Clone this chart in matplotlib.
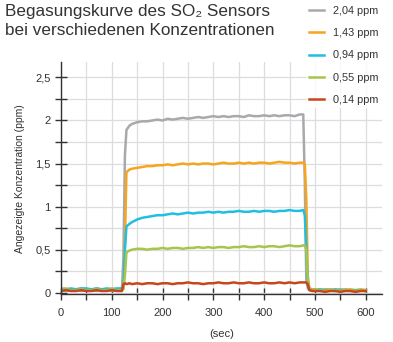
import matplotlib
matplotlib.use('Agg')
import matplotlib.pyplot as plt
from matplotlib.ticker import MultipleLocator, FuncFormatter

plt.rcParams['font.family'] = ['Liberation Sans', 'DejaVu Sans']

# Zeitachse (sec)
t = [0, 10, 20, 30, 40, 50, 60, 70, 80, 90, 100, 110, 120,
     123, 126, 129, 135,
     140, 150, 160, 170, 180, 190, 200, 210, 220, 230, 240, 250, 260, 270,
     280, 290, 300, 310, 320, 330, 340, 350, 360, 370, 380, 390, 400, 410,
     420, 430, 440, 450, 460, 470,
     477, 480, 483, 486, 489, 495,
     500, 510, 520, 530, 540, 550, 560, 570, 580, 590, 600]

labels = ['2,04 ppm', '1,43 ppm', '0,94 ppm', '0,55 ppm', '0,14 ppm']
colors = ['#a8a9ad', '#f7a41e', '#1fbfe0', '#a6c54b', '#c9461d']

y_204 = [0.03, 0.02, 0.03, 0.04, 0.02, 0.03, 0.03, 0.02, 0.04, 0.03, 0.02, 0.03, 0.03,
         0.40, 1.60, 1.89, 1.94,
         1.96, 1.98, 1.99, 1.99, 2.00, 2.01, 2.00, 2.02, 2.01, 2.02, 2.03, 2.02, 2.03, 2.04,
         2.03, 2.04, 2.05, 2.04, 2.05, 2.04, 2.05, 2.05, 2.04, 2.06, 2.05, 2.05, 2.06, 2.05,
         2.06, 2.05, 2.06, 2.06, 2.05, 2.07,
         2.07, 1.30, 0.15, 0.05, 0.03, 0.03,
         0.03, 0.02, 0.03, 0.03, 0.02, 0.03, 0.04, 0.03, 0.02, 0.03, 0.03]

y_143 = [0.04, 0.05, 0.03, 0.04, 0.05, 0.04, 0.03, 0.05, 0.04, 0.04, 0.05, 0.04, 0.04,
         0.05, 0.60, 1.40, 1.43,
         1.44, 1.45, 1.46, 1.47, 1.47, 1.48, 1.48, 1.49, 1.48, 1.49, 1.50, 1.49, 1.50, 1.49,
         1.50, 1.50, 1.49, 1.50, 1.51, 1.50, 1.50, 1.51, 1.50, 1.51, 1.50, 1.51, 1.51, 1.50,
         1.51, 1.52, 1.51, 1.51, 1.50, 1.51,
         1.51, 1.50, 1.10, 0.20, 0.05, 0.04,
         0.04, 0.03, 0.04, 0.04, 0.03, 0.04, 0.03, 0.04, 0.03, 0.04, 0.03]

y_094 = [0.05, 0.04, 0.05, 0.04, 0.05, 0.05, 0.04, 0.05, 0.04, 0.05, 0.04, 0.05, 0.05,
         0.06, 0.50, 0.77, 0.80,
         0.82, 0.85, 0.87, 0.88, 0.89, 0.90, 0.90, 0.91, 0.92, 0.91, 0.92, 0.93, 0.92, 0.93,
         0.93, 0.94, 0.93, 0.94, 0.93, 0.94, 0.94, 0.95, 0.94, 0.94, 0.95, 0.94, 0.95, 0.95,
         0.94, 0.95, 0.95, 0.96, 0.95, 0.95,
         0.96, 0.90, 0.50, 0.08, 0.04, 0.03,
         0.03, 0.04, 0.03, 0.03, 0.04, 0.03, 0.03, 0.02, 0.03, 0.03, 0.02]

y_055 = [0.03, 0.04, 0.03, 0.03, 0.04, 0.03, 0.03, 0.04, 0.03, 0.03, 0.04, 0.03, 0.03,
         0.04, 0.20, 0.47, 0.49,
         0.50, 0.51, 0.51, 0.50, 0.51, 0.51, 0.52, 0.51, 0.52, 0.52, 0.51, 0.52, 0.52, 0.53,
         0.52, 0.53, 0.52, 0.53, 0.53, 0.52, 0.53, 0.53, 0.54, 0.53, 0.53, 0.54, 0.53, 0.54,
         0.54, 0.53, 0.54, 0.55, 0.54, 0.54,
         0.55, 0.55, 0.50, 0.15, 0.04, 0.03,
         0.03, 0.03, 0.02, 0.03, 0.03, 0.02, 0.03, 0.03, 0.02, 0.03, 0.02]

y_014 = [0.02, 0.03, 0.02, 0.02, 0.03, 0.02, 0.02, 0.03, 0.02, 0.02, 0.03, 0.02, 0.02,
         0.10, 0.11, 0.10, 0.11,
         0.10, 0.11, 0.10, 0.11, 0.11, 0.10, 0.11, 0.11, 0.10, 0.11, 0.11, 0.12, 0.11, 0.11,
         0.10, 0.11, 0.11, 0.12, 0.11, 0.11, 0.12, 0.11, 0.11, 0.12, 0.11, 0.11, 0.12, 0.11,
         0.11, 0.12, 0.11, 0.12, 0.11, 0.12,
         0.12, 0.12, 0.12, 0.10, 0.03, 0.02,
         0.02, 0.02, 0.01, 0.02, 0.02, 0.01, 0.02, 0.02, 0.01, 0.02, 0.02]

series = [y_204, y_143, y_094, y_055, y_014]

fig = plt.figure(figsize=(3.93, 3.42), dpi=100)
ax = fig.add_axes([0.155, 0.139, 0.817, 0.680])

for y, c, lab in zip(series, colors, labels):
    ax.plot(t, y, color=c, lw=1.8, label=lab, solid_joinstyle='round')

ax.set_xlim(0, 632)
ax.set_ylim(-0.02, 2.68)

ax.set_xticks([0, 100, 200, 300, 400, 500, 600])
ax.xaxis.set_minor_locator(MultipleLocator(50))
ax.yaxis.set_major_locator(MultipleLocator(0.5))
ax.yaxis.set_minor_locator(MultipleLocator(0.25))
ax.yaxis.set_major_formatter(FuncFormatter(lambda v, p: ('%g' % v).replace('.', ',')))

ax.grid(True, which='both', color='#dddddd', lw=0.9)
ax.set_axisbelow(True)

for s in ['top', 'right']:
    ax.spines[s].set_visible(False)
for s in ['left', 'bottom']:
    ax.spines[s].set_color('#333333')
    ax.spines[s].set_linewidth(1.0)

ax.tick_params(which='both', direction='inout', length=9, width=1.0,
               color='#333333', labelsize=8, labelcolor='#333333')
ax.tick_params(axis='y', which='both', pad=3)
ax.tick_params(axis='x', which='both', pad=5)

ax.set_xlabel('(sec)', fontsize=8, color='#333333', labelpad=8)
ax.set_ylabel('Angezeigte Konzentration (ppm)', fontsize=7.5, color='#333333', labelpad=7)

fig.text(0.013, 0.987, 'Begasungskurve des SO\u2082 Sensors\nbei verschiedenen Konzentrationen',
         fontsize=12.3, color='#333333', va='top', ha='left', linespacing=1.3)

leg = fig.legend(loc='upper left', bbox_to_anchor=(0.78, 0.99), frameon=True,
                 fontsize=7.8, handlelength=1.4, handletextpad=0.8,
                 labelspacing=1.12, borderaxespad=0.0, borderpad=0.25)
leg.get_frame().set_facecolor('white')
leg.get_frame().set_edgecolor('white')
for txt in leg.get_texts():
    txt.set_color('#333333')

plt.savefig('out.png', dpi=100)
